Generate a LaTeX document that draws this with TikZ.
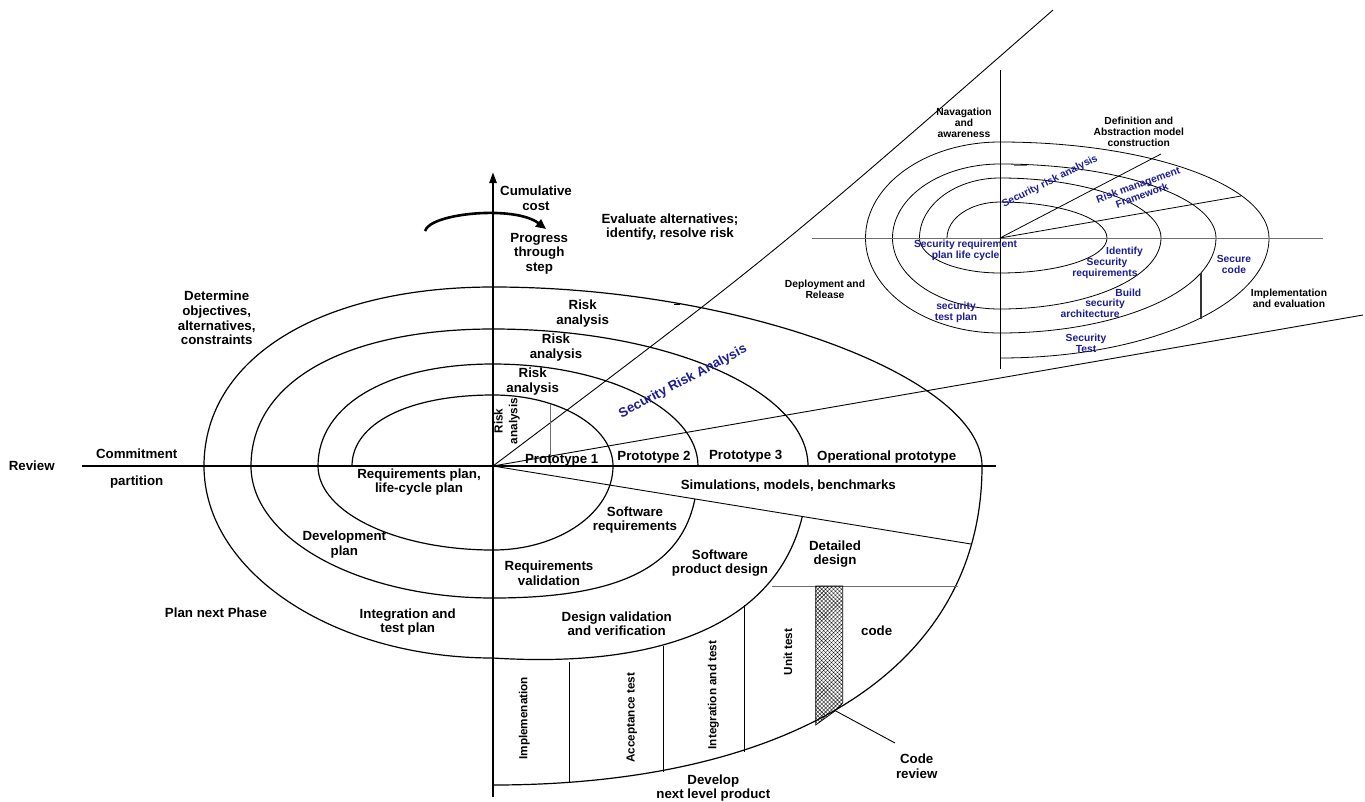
\documentclass[tikz,border=0pt]{standalone}
\usepackage{fontspec}
\setmainfont{Liberation Sans}
\usetikzlibrary{arrows.meta,patterns.meta}
\definecolor{secblue}{RGB}{28,28,150}
\definecolor{axisgray}{RGB}{110,110,110}
\begin{document}
\begin{tikzpicture}[x=1pt,y=-1pt,
  axis/.style={line width=2.4pt},
  spiral/.style={line width=1.2pt},
  guide/.style={line width=0.9pt},
  mini/.style={line width=0.8pt},
  lbl/.style={font=\fontsize{13.3}{14.7}\selectfont\bfseries, align=center, inner sep=0pt},
  vlbl/.style={font=\fontsize{11.7}{14.7}\selectfont\bfseries, align=center, inner sep=0pt, rotate=90},
  slbl/.style={font=\fontsize{10.3}{11}\selectfont\bfseries, align=center, inner sep=0pt},
  blbl/.style={slbl, text=secblue},
]
\useasboundingbox (0,0) rectangle (1365,801);

% origins of the two spirals
\coordinate (O) at (493,466);
\coordinate (S) at (1000,238);

% ---------------- main spiral: quarter arcs around O ----------------
\begin{scope}[spiral]
  % upper left quarters
  \draw (352,466) .. controls (352,423.4) and (408.4,395) .. (493,395);
  \draw (318,466) .. controls (318,404.8) and (388,364) .. (493,364);
  \draw (251,466) .. controls (251,380) and (347.8,329) .. (493,329);
  \draw (204,466) .. controls (204,358.6) and (319.6,287) .. (493,287);
  % upper right quarters
  \draw (493,395) .. controls (559.3,395) and (613,426.8) .. (613,466);
  \draw (493,364) .. controls (606.2,364) and (698,409.7) .. (698,466);
  \draw (493,329) .. controls (667,329) and (808,390.3) .. (808,466);
  \draw (493,287) .. controls (737.5,287) and (982,376.5) .. (982,466);
  % lower right quarters
  \draw (613,466) .. controls (613,512.4) and (559.3,550) .. (493,550);
  \begin{scope}
    \clip (380,466) -- (493,466) -- (1100,565.2) -- (1100,820) -- (380,820) -- cycle;
    \draw (698,466) .. controls (698,558.4) and (636.5,598) .. (493,598);
    \draw (808,466) .. controls (808,612) and (683,670) .. (493,658);
  \end{scope}
  \draw (982,466) .. controls (982,672) and (786,785) .. (493,785);
  % lower left quarters
  \draw (493,550) .. controls (396.3,550) and (318,512.4) .. (318,466);
  \draw (493,598) .. controls (359.3,598) and (251,538.9) .. (251,466);
  \draw (493,658) .. controls (333.4,658) and (204,572) .. (204,466);
\end{scope}

% rays and dividers of the main spiral
\draw[guide] (O) .. controls (774,254) .. (1053,10);
\draw[guide] (O) -- (1363,315);
\draw[guide] (O) -- (971,544);
\draw[guide, axisgray] (550,404) -- (550,466);
\draw[guide, axisgray] (772,586) -- (958,586);
\draw[guide] (569.3,662) -- (569.3,783);
\draw[guide] (663.3,645.5) -- (663.3,772.3);
\draw[guide] (744.3,605) -- (744.3,752);
\draw[guide] (674,304) -- (680,304);

% code review strip
\coordinate (crtip) at (834,710);
\coordinate (crend) at (895,743);
\path[pattern={Lines[angle=45,distance=2.8pt,line width=0.4pt]}]
  (815.7,586) -- (842.7,586) -- (842.7,703) -- (835,711) -- (815.7,725) -- cycle;
\path[pattern={Lines[angle=-45,distance=2.8pt,line width=0.4pt]}]
  (815.7,586) -- (842.7,586) -- (842.7,703) -- (835,711) -- (815.7,725) -- cycle;
\draw[line width=0.7pt] (815.7,586) -- (842.7,586) -- (842.7,703) -- (835,711) -- (815.7,725) -- cycle;
\draw[guide] (crtip) -- (crend);

% axes
\draw[axis] (82,466) -- (996,466);
\draw[axis, -{Triangle[length=11pt,width=7pt]}] (493,797) -- (493,172);
\draw[line width=2.6pt, -{Triangle[length=10pt,width=9pt]}]
  (425,231) .. controls (430,213) and (515,205) .. (546,229);

% ---------------- small security spiral around S ----------------
\begin{scope}[mini]
  \draw (947,238) .. controls (947,218.1) and (970.7,202) .. (1000,202);
  \draw (919.5,238) .. controls (919.5,204.9) and (955.5,178) .. (1000,178);
  \draw (892.5,238) .. controls (892.5,197.1) and (940.6,164) .. (1000,164);
  \draw (865.5,238) .. controls (865.5,185) and (925.7,142) .. (1000,142);
  \draw (1000,202) .. controls (1059.1,202) and (1107,218.1) .. (1107,238);
  \draw (1000,178) .. controls (1088.9,178) and (1161,204.9) .. (1161,238);
  \draw (1000,164) .. controls (1119.3,164) and (1216,197.1) .. (1216,238);
  \draw (1000,142) .. controls (1148.6,142) and (1269,185) .. (1269,238);
  \draw (1107,238) .. controls (1107,257.3) and (1059.1,273) .. (1000,273);
  \draw (1161,238) .. controls (1161,277.2) and (1088.9,309) .. (1000,309);
  \draw (1216,238) .. controls (1216,290.5) and (1119.3,333) .. (1000,333);
  \draw (1269,238) .. controls (1269,304.3) and (1148.6,358) .. (1000,358);
  \draw (1000,273) .. controls (955.5,273) and (919.5,257.3) .. (919.5,238);
  \draw (1000,309) .. controls (940.6,309) and (892.5,277.2) .. (892.5,238);
  \draw (1000,333) .. controls (925.7,333) and (865.5,290.5) .. (865.5,238);
  \draw[axisgray] (812,238) -- (1323,238);
  \draw (1000,70) -- (1000,369);
  \draw (S) -- (1161,154);
  \draw (S) -- (1241,196);
  \draw[line width=1.5pt, black!80] (1201,273) -- (1201,319);
  \draw[line width=1.2pt, axisgray] (1014,165.5) -- (1027,165.5);
\end{scope}

% ---------------- labels of the main spiral ----------------
\node[lbl] (review) at (31.7,466) {Review};
\node[lbl] (commit) at (136.7,454) {Commitment};
\node[lbl] (partition) at (136.7,482) {partition};
\node[lbl] (determine) at (216.7,318) {Determine\\objectives,\\alternatives,\\constraints};
\node[lbl] (cumcost) at (536,198) {Cumulative\\cost};
\node[lbl] (progress) at (539.3,253.5) {Progress\\through\\step};
\node[lbl] (evaluate) at (670,227) {Evaluate alternatives;\\identify, resolve risk};
\node[lbl] (risk4) at (582.7,313.5) {Risk\\analysis};
\node[lbl] (risk3) at (556,347.5) {Risk\\analysis};
\node[lbl] (risk2) at (532.7,381.5) {Risk\\analysis};
\node[vlbl] (risk1) at (507,421) {Risk\\analysis};
\node[lbl] (proto1) at (561.7,460) {Prototype 1};
\node[lbl] (proto2) at (654,457.3) {Prototype 2};
\node[lbl] (proto3) at (745.7,456.7) {Prototype 3};
\node[lbl] (oper) at (886.7,456.7) {Operational prototype};
\node[lbl, text=secblue, rotate=27.8] (sra) at (683,381.7) {Security Risk Analysis};
\node[lbl] (sim) at (788.3,485.7) {Simulations, models, benchmarks};
\node[lbl] (swreq) at (635,520) {Software\\requirements};
\node[lbl] (reqplan) at (419,482) {Requirements plan,\\life-cycle plan};
\node[lbl] (devplan) at (344.3,544.5) {Development\\plan};
\node[lbl] (reqval) at (549,573.4) {Requirements\\validation};
\node[lbl] (swprod) at (720,563) {Software\\product design};
\node[lbl] (detailed) at (835,554) {Detailed\\design};
\node[lbl] (plannext) at (216,612.7) {Plan next Phase};
\node[lbl] (itplan) at (407.7,622) {Integration and\\test plan};
\node[lbl] (desval) at (616.7,623.7) {Design validation\\and verification};
\node[lbl] (code) at (876.7,631) {code};
\node[vlbl] (unittest) at (788,652) {Unit test};
\node[vlbl] (inttest) at (713.3,695) {Integration and test};
\node[vlbl] (acctest) at (631.7,717.7) {Acceptance test};
\node[vlbl] (implem) at (524.3,718.3) {Implemenation};
\node[lbl] (develop) at (713.3,788) {Develop\\next level product};
\node[lbl] (codereview) at (916.7,766) {Code\\review};

% ---------------- labels of the security spiral ----------------
\node[slbl] (navag) at (964,123) {Navagation\\and\\awareness};
\node[slbl] (defn) at (1138.8,131.5) {Definition and\\Abstraction model\\construction};
\node[slbl] (deploy) at (825,289.5) {Deployment and\\Release};
\node[slbl] (impleval) at (1289,298) {Implementation\\and evaluation};
\node[blbl] (secreq) at (965.6,250) {Security requirement\\plan life cycle};
\node[blbl] (identA) at (1124.5,251.7) {Identify};
\node[blbl] (identB) at (1107,262.7) {Security};
\node[blbl] (identC) at (1105,274) {requirements};
\node[blbl] (buildA) at (1128.3,292.7) {Build};
\node[blbl] (buildB) at (1105,304) {security};
\node[blbl] (buildC) at (1090,314.3) {architecture};
\node[blbl] (securecode) at (1234,264.2) {Secure\\code};
\node[blbl] (testplan) at (956,312.2) {security\\test plan};
\node[blbl] (sectest) at (1086,343.5) {Security\\Test};
\node[blbl, rotate=26.5] (srasmall) at (1050,181.7) {Security risk analysis};
\node[blbl, rotate=20] (rmf) at (1140,190) {Risk management\\Framework};
\end{tikzpicture}
\end{document}
